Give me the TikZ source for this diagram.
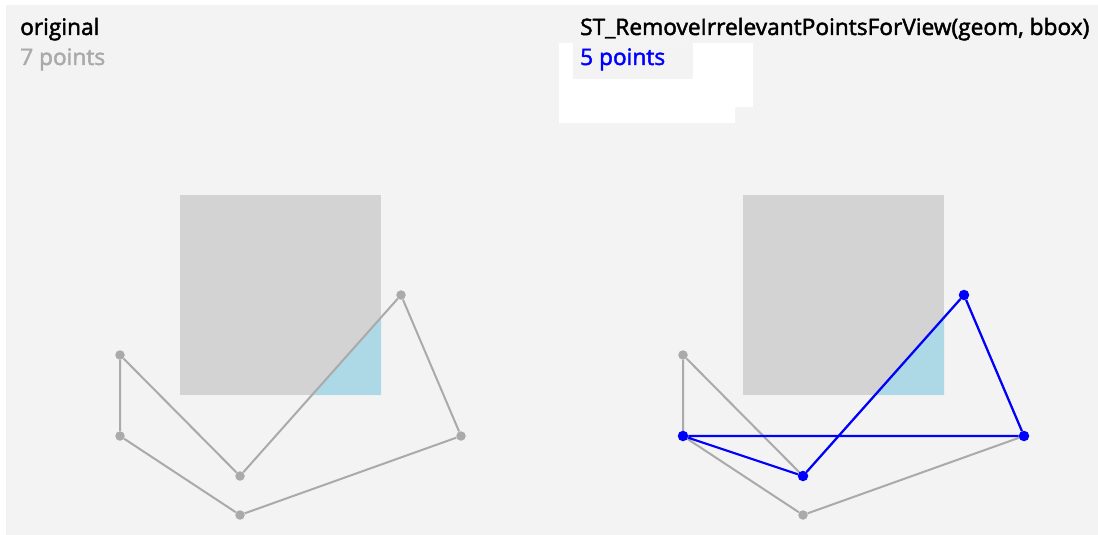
\documentclass[tikz,border=0pt]{standalone}
\usepackage{fontspec}
\setmainfont{Open Sans}
\newfontfamily\capfont{Open Sans}[FakeBold=2]
\definecolor{bggray}{HTML}{F3F3F3}
\definecolor{bboxgray}{HTML}{D3D3D3}
\definecolor{clipblue}{HTML}{ADD8E6}
\definecolor{ringgray}{HTML}{AAAAAA}
\definecolor{keptblue}{RGB}{0,0,255}
\usetikzlibrary{positioning}

\tikzset{
  vtx/.style={circle, fill=ringgray, inner sep=0pt, minimum size=9.5pt},
  keptvtx/.style={circle, fill=keptblue, inner sep=0pt, minimum size=10.5pt},
  ring/.style={draw=ringgray, line width=2pt, line join=round},
  keptring/.style={draw=keptblue, line width=2.2pt, line join=round},
  caption/.style={anchor=base west, inner sep=0pt, font=\capfont\fontsize{22.7}{26}\selectfont}
}

\begin{document}
\begin{tikzpicture}[x=1pt, y=-1pt]
  \useasboundingbox (0,0) rectangle (1098,535);
  \fill[bggray] (6,5) rectangle (1098,535);

  % left panel: input geometry
  \node[caption, text=black] (title1) at (20,35) {original};
  \node[caption, text=ringgray] (count1) at (20,65) {7 points};
  \fill[bboxgray] (180,195) rectangle (381,395);
  \fill[clipblue] (381,317.5) -- (381,395) -- (312,395) -- cycle;
  \node[vtx] (a1) at (120,355) {};
  \node[vtx] (b1) at (120,436) {};
  \node[vtx] (c1) at (240,515) {};
  \node[vtx] (d1) at (461,436) {};
  \node[vtx] (e1) at (401,295) {};
  \node[vtx] (f1) at (240,476) {};
  \draw[ring] (a1) -- (b1) -- (c1) -- (d1) -- (e1) -- (f1) -- (a1);

  % right panel: result
  \fill[white] (559,43) -- (753,43) -- (753,107) -- (735,107) -- (735,123) -- (559,123) -- cycle;
  \fill[bggray] (573,43) rectangle (693,79);
  \node[caption, text=black] (title2) at (580,35) {ST\_RemoveIrrelevantPointsForView(geom, bbox)};
  \node[caption, text=keptblue] (count2) at (580,65) {5 points};
  \fill[bboxgray] (743,195) rectangle (944,395);
  \fill[clipblue] (944,317.5) -- (944,395) -- (875,395) -- cycle;
  \node[vtx] (a2) at (683,355) {};
  \node[vtx] (b2) at (683,436) {};
  \node[vtx] (c2) at (803,515) {};
  \node[vtx] (d2) at (1024,436) {};
  \node[vtx] (e2) at (964,295) {};
  \node[vtx] (f2) at (803,476) {};
  \draw[ring] (a2) -- (b2) -- (c2) -- (d2) -- (e2) -- (f2) -- (a2);
  \node[keptvtx] (b2k) at (b2) {};
  \node[keptvtx] (f2k) at (f2) {};
  \node[keptvtx] (e2k) at (e2) {};
  \node[keptvtx] (d2k) at (d2) {};
  \draw[keptring] (b2k) -- (f2k) -- (e2k) -- (d2k) -- (b2k);
\end{tikzpicture}
\end{document}
